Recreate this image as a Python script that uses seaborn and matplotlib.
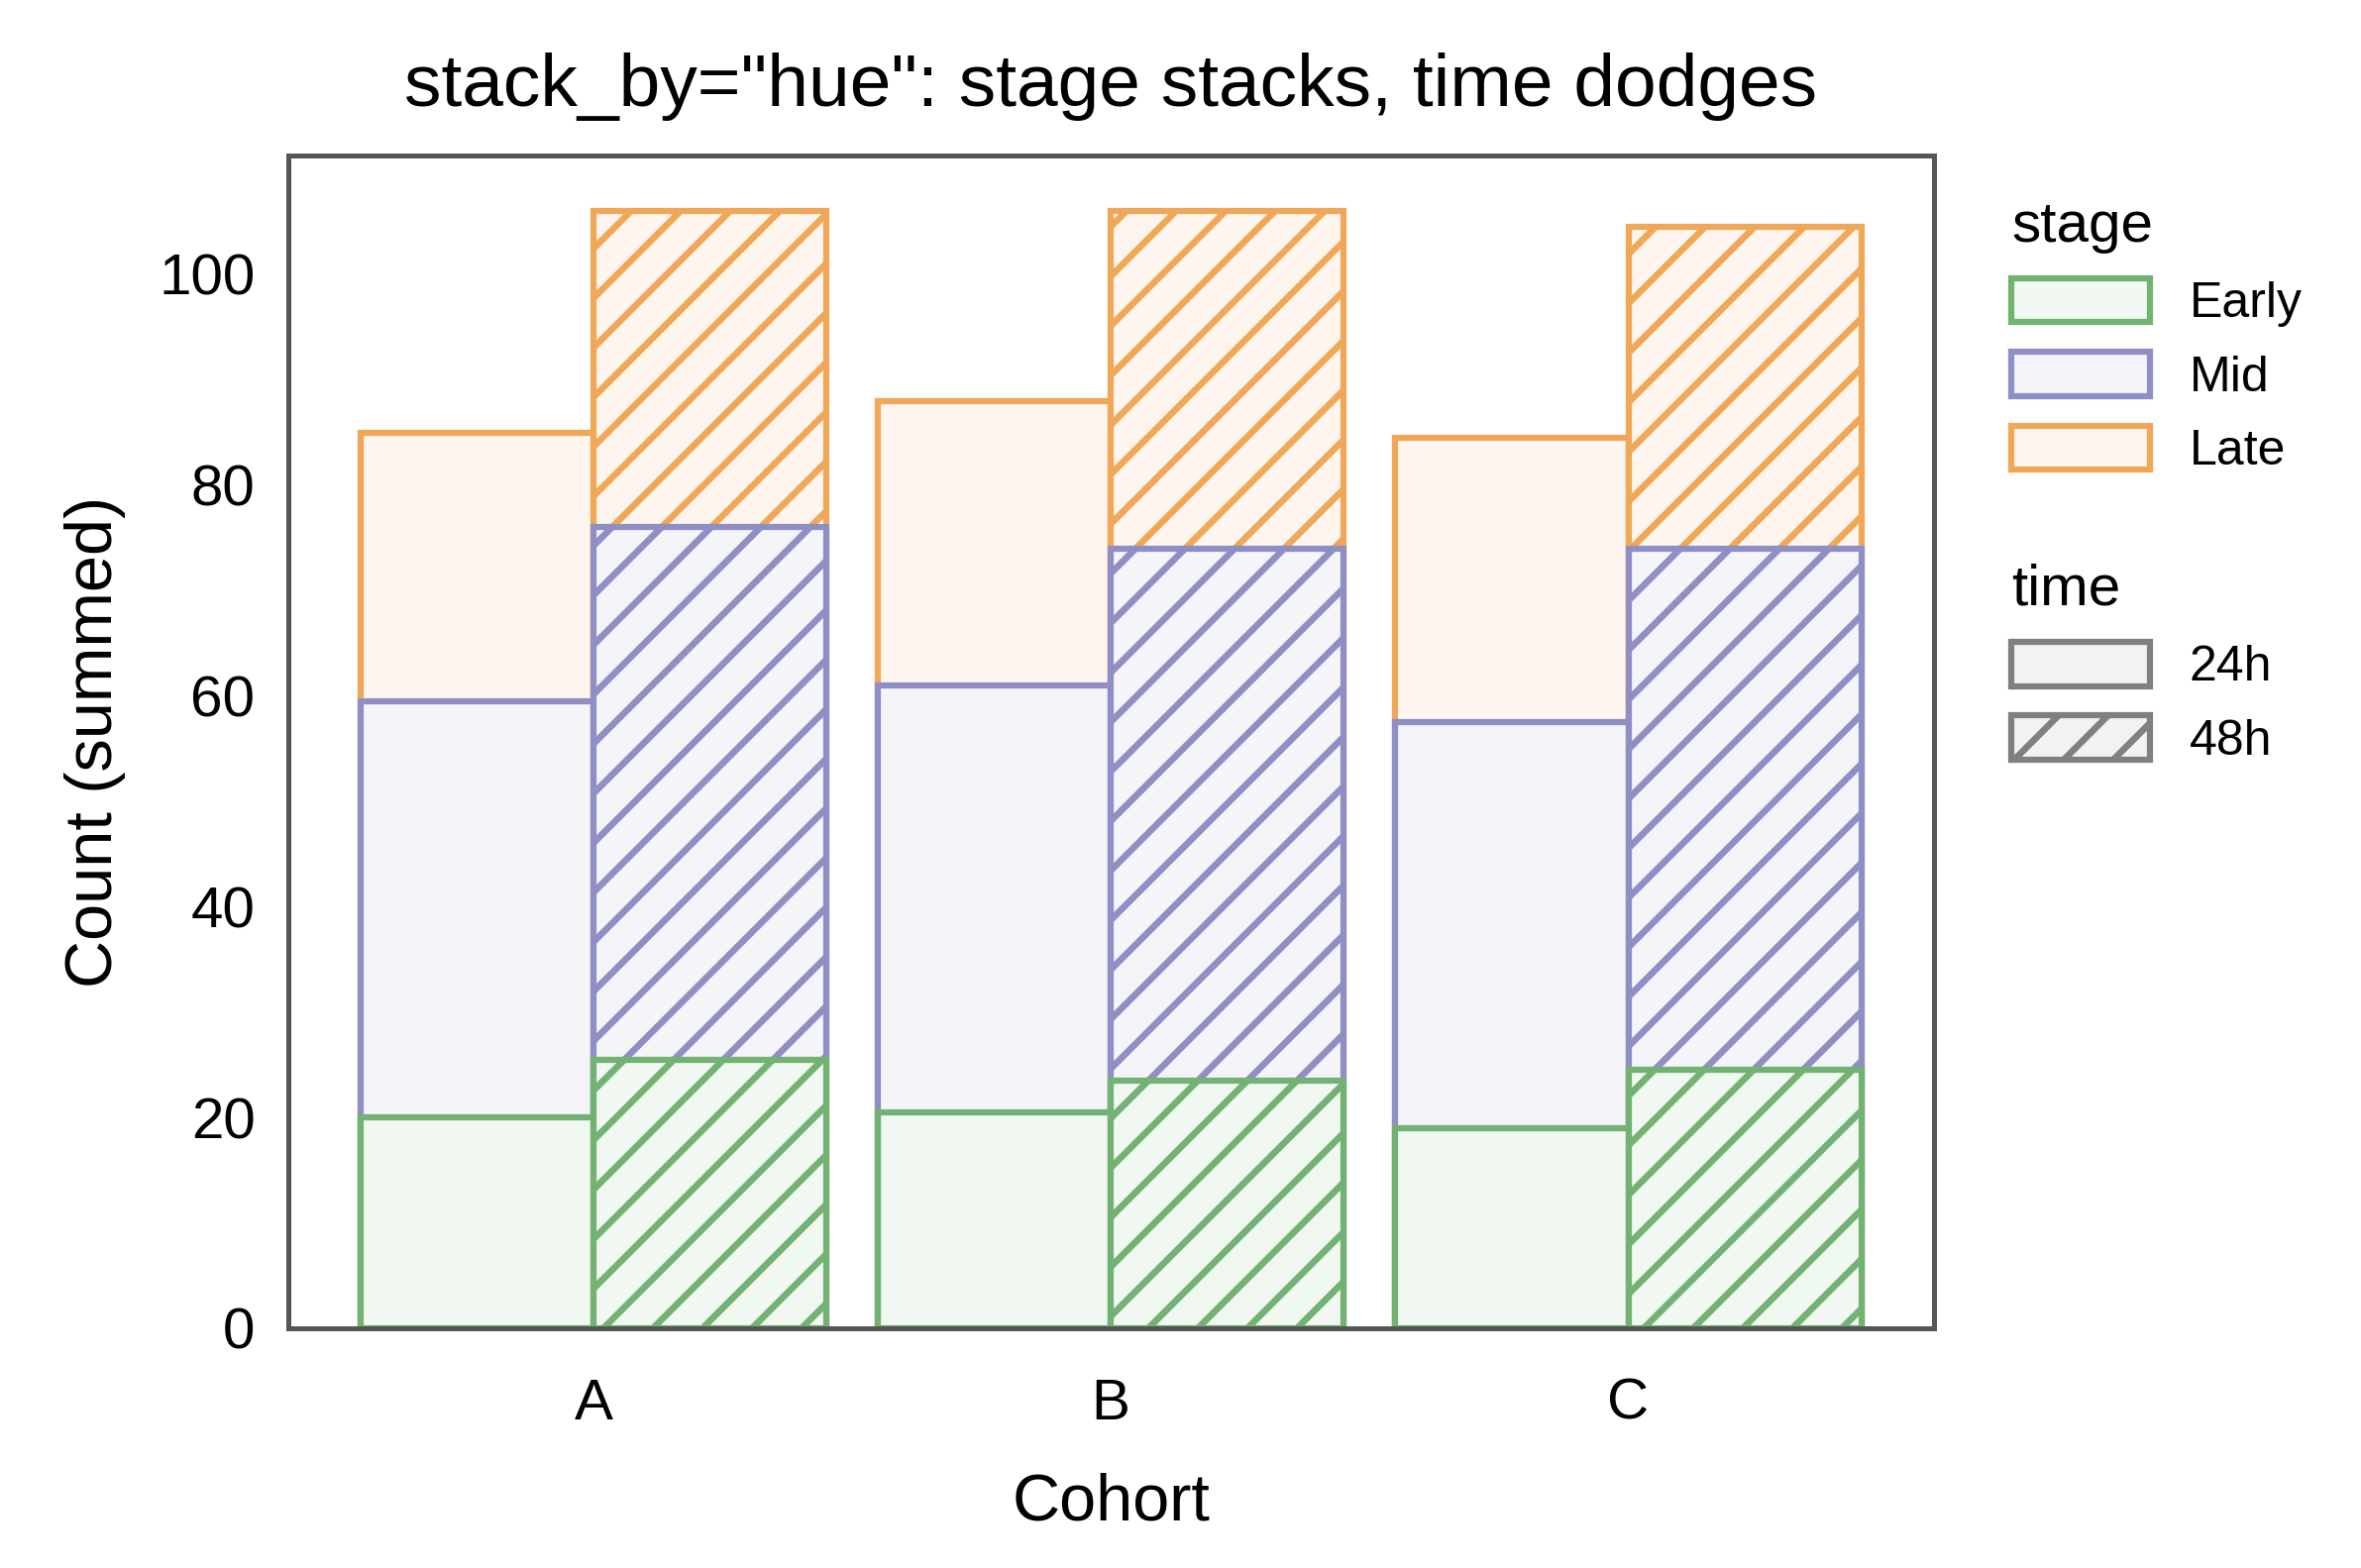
import pandas as pd
import numpy as np
import matplotlib
matplotlib.use("Agg")
import matplotlib.pyplot as plt
import matplotlib.colors as mcolors
from matplotlib.patches import Patch
import seaborn as sns

# ---- data ----
cohorts = ["A", "B", "C"]
times = ["24h", "48h"]
stages = ["Early", "Mid", "Late"]
early = {"24h": [20.0, 20.5, 19.0], "48h": [25.5, 23.5, 24.5]}
mid = {"24h": [39.5, 40.5, 38.5], "48h": [50.5, 50.5, 49.5]}
late = {"24h": [25.5, 27.0, 27.0], "48h": [30.0, 32.0, 30.5]}

stage_colors = {"Early": "#72b272", "Mid": "#8f8fc6", "Late": "#f0a858"}

rows = []
for t in times:
    for i, c in enumerate(cohorts):
        rows.append({"cohort": c, "time": t, "Early": early[t][i],
                     "Mid": mid[t][i], "Late": late[t][i]})
df = pd.DataFrame(rows)
df["cum_Early"] = df["Early"]
df["cum_Mid"] = df["Early"] + df["Mid"]
df["cum_Late"] = df["cum_Mid"] + df["Late"]

sns.set_theme(style="white")
plt.rcParams["font.family"] = ["Liberation Sans", "DejaVu Sans"]
plt.rcParams["hatch.linewidth"] = 1.6
plt.rcParams["text.color"] = "black"
plt.rcParams["axes.labelcolor"] = "black"
plt.rcParams["xtick.color"] = "black"
plt.rcParams["ytick.color"] = "black"

def light(c, a=0.1):
    r = np.array(mcolors.to_rgb(c))
    return tuple(1 - a + a * r)

fig = plt.figure(figsize=(2383 / 300, 1583 / 300), dpi=300)
ax = fig.add_axes([0.122, 0.153, 0.697, 0.748])

# draw from the top of the stack down so lower segments cover upper ones
for s in ["Late", "Mid", "Early"]:
    n0 = len(ax.patches)
    sns.barplot(data=df, x="cohort", y="cum_" + s, hue="time", order=cohorts,
                hue_order=times, dodge=True, width=0.9, gap=0, ax=ax,
                palette=[light(stage_colors[s])] * 2, legend=False,
                edgecolor=stage_colors[s], linewidth=1.5, errorbar=None)
    for p in ax.patches[n0:]:
        p.set_facecolor(light(stage_colors[s]))
        p.set_edgecolor(stage_colors[s])
        p.set_linewidth(1.5)
    # second hue level = 48h -> hatched
    for p in ax.patches[n0 + len(cohorts):]:
        p.set_hatch("//")

ax.set_xlim(-0.59, 2.59)
ax.set_ylim(0, 111.3)
ax.set_yticks([0, 20, 40, 60, 80, 100])
ax.tick_params(labelsize=14, length=0)
ax.tick_params(axis="x", pad=12)
ax.tick_params(axis="y", pad=8)
ax.set_xlabel("Cohort", fontsize=16, labelpad=10)
ax.set_ylabel("Count (summed)", fontsize=16, labelpad=8)
ax.set_title('stack_by="hue": stage stacks, time dodges', fontsize=18, pad=12)
for sp in ax.spines.values():
    sp.set_color("#555555")
    sp.set_linewidth(1.2)

stage_handles = [Patch(facecolor=light(stage_colors[s]), edgecolor=stage_colors[s],
                       linewidth=1.5, label=s) for s in stages]
time_handles = [Patch(facecolor="#f2f2f2", edgecolor="#808080", linewidth=1.5, label="24h"),
                Patch(facecolor="#f2f2f2", edgecolor="#808080", linewidth=1.5,
                      hatch="//", label="48h")]
leg1 = ax.legend(handles=stage_handles, title="stage", loc="upper left",
                 bbox_to_anchor=(1.02, 1.0), frameon=False, fontsize=12,
                 title_fontsize=14, alignment="left", handlelength=2.8,
                 handleheight=1.0, labelspacing=0.5)
ax.add_artist(leg1)
ax.legend(handles=time_handles, title="time", loc="upper left",
          bbox_to_anchor=(1.02, 0.69), frameon=False, fontsize=12,
          title_fontsize=14, alignment="left", handlelength=2.8,
          handleheight=1.0, labelspacing=0.5)

fig.savefig("out.png", dpi=300)
